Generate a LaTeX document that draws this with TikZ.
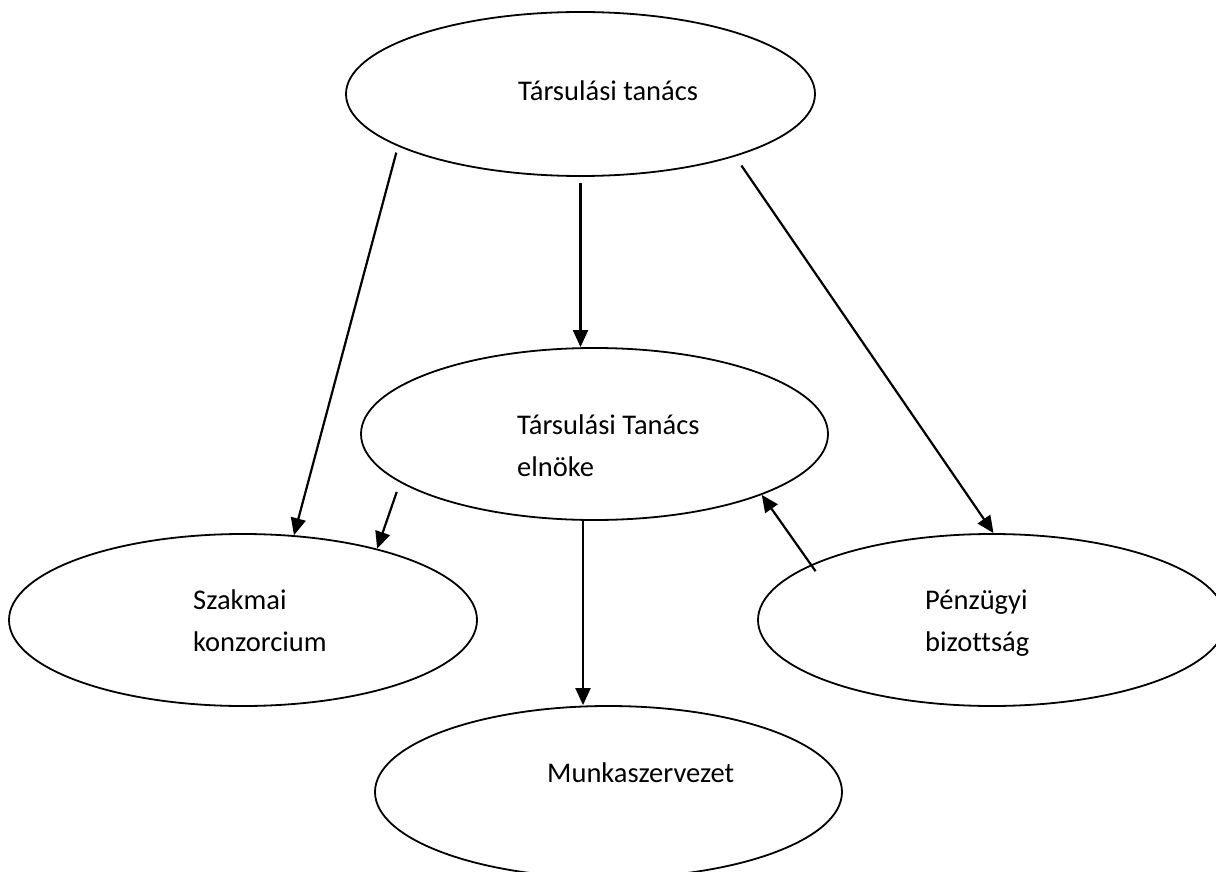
\documentclass[tikz,border=0pt]{standalone}
\usepackage{fontspec}
\setmainfont[Ligatures=NoCommon]{Carlito}
\usetikzlibrary{shapes.geometric,arrows.meta,positioning}

\tikzset{
  blob/.style={draw, ellipse, line width=1.8pt, inner sep=0pt,
    minimum width=468pt, minimum height=172pt},
  lbl/.style={anchor=base west, inner sep=0pt, align=left,
    font=\fontsize{28.5}{42}\selectfont},
  link/.style={->, line width=2.2pt},
  >={Triangle[length=17pt,width=15pt]}
}

\begin{document}
\begin{tikzpicture}[x=1pt,y=-1pt]
  \useasboundingbox (0,0) rectangle (1216,872);

  % ellipses
  \node[blob, minimum width=469pt, minimum height=164pt] (tanacs) at (580.5,94) {};
  \node[blob, minimum width=467pt] (elnoke) at (594.5,434) {};
  \node[blob] (szakmai) at (243,620) {};
  \node[blob] (penzugyi) at (992,620) {};
  \node[blob, minimum width=467pt] (munka) at (608.5,792) {};

  % texts (base = last line)
  \node[lbl] (tanacs-txt) at (518,101) {Társulási tanács};
  \node[lbl] (elnoke-txt) at (517,476) {Társulási Tanács\\elnöke};
  \node[lbl] (szakmai-txt) at (193,651) {Szakmai\\konzorcium};
  \node[lbl] (penzugyi-txt) at (925,651) {Pénzügyi\\bizottság};
  \node[lbl] (munka-txt) at (547,782) {Munkaszervezet};

  % arrows
  \draw[link, shorten <=6.5pt] (tanacs.196) -- (szakmai.59);
  \draw[link, shorten <=6pt] (tanacs.south) -- (tanacs.south |- elnoke.north);
  \draw[link, shorten <=11pt] (tanacs.338) -- (penzugyi.89);
  \draw[link, shorten <=10pt] (elnoke.194) -- (szakmai.28);
  \draw[link, shorten <=-8pt] (penzugyi.163) -- (elnoke.340);
  \draw[link] ([xshift=-11.5pt]elnoke.south) -- ([xshift=-11.5pt]elnoke.south |- munka.north);
\end{tikzpicture}
\end{document}
